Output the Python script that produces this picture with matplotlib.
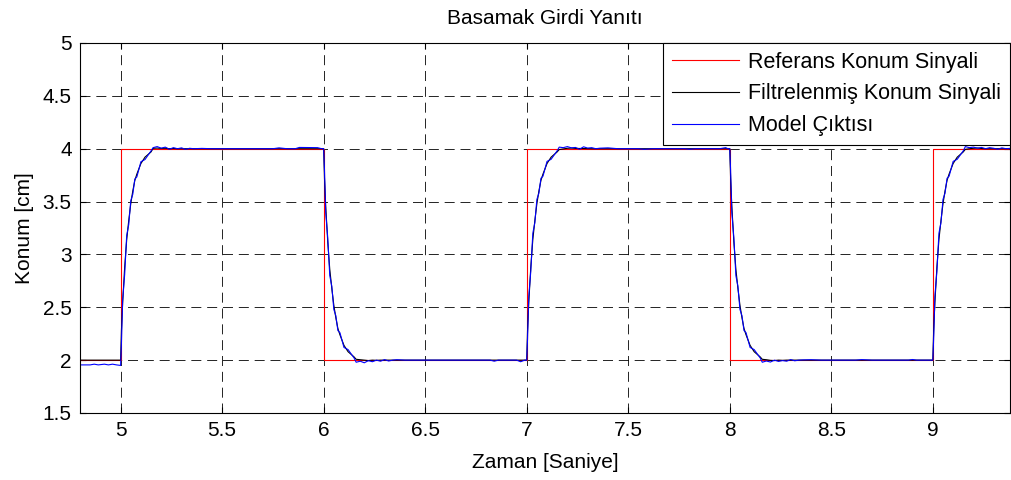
import matplotlib.pyplot as plt
import numpy as np

plt.rcParams['font.family'] = ['Liberation Sans', 'DejaVu Sans']

# reference step signal
step_times = [5.0, 6.0, 7.0, 8.0, 9.0]
ref_levels = [2.0, 4.0, 2.0, 4.0, 2.0, 4.0]
t_start, t_end = 4.8, 9.38

# transient: time after step (s) -> fraction of the jump done
resp_dt = [0.0, 0.004, 0.01, 0.02, 0.03, 0.04, 0.05, 0.06, 0.07, 0.08, 0.10, 0.12, 0.15]
filt_frac = [0.0, 0.14, 0.27, 0.44, 0.57, 0.66, 0.74, 0.80, 0.85, 0.88, 0.93, 0.96, 0.985]
model_frac = [0.0, 0.10, 0.30, 0.42, 0.60, 0.65, 0.76, 0.79, 0.86, 0.87, 0.94, 0.95, 0.99]

# model output before the first step
pre_t = [4.8, 4.85, 4.87, 4.89, 4.92, 4.94, 4.96, 4.98, 4.999]
pre_y = [1.955, 1.955, 1.962, 1.955, 1.962, 1.955, 1.962, 1.955, 1.95]

# model ripple around the new level after each step (cm), at settle_dt after the step
settle_dt = [0.16, 0.18, 0.20, 0.22, 0.24, 0.26, 0.28, 0.30, 0.32, 0.34, 0.36, 0.40, 0.45]
model_ripple = [
    [0.010, 0.020, 0.005, 0.015, -0.005, 0.010, 0.000, 0.008, -0.006, 0.004, 0.000, 0.003, 0.000],
    [-0.020, -0.010, -0.025, -0.005, -0.015, 0.000, -0.010, 0.005, -0.008, 0.000, 0.004, 0.000, 0.000],
    [0.015, 0.010, 0.020, 0.008, 0.012, -0.005, 0.018, 0.006, 0.010, 0.000, 0.005, 0.008, 0.000],
    [-0.020, -0.008, -0.018, 0.000, -0.012, -0.004, -0.010, 0.005, -0.006, 0.000, 0.002, 0.004, 0.000],
    [0.020, 0.010, 0.015, 0.005, 0.012, 0.000, 0.010, 0.004, -0.005, 0.008, 0.000, 0.006, 0.003],
]
filt_ripple = [
    [0.004, 0.006, 0.003, 0.004, 0.000, 0.002, 0.000, 0.000, 0.000, 0.000, 0.000, 0.000, 0.000],
    [0.008, 0.004, 0.000, -0.004, 0.000, -0.002, 0.000, 0.000, 0.000, 0.000, 0.000, 0.000, 0.000],
    [-0.008, -0.002, 0.004, 0.006, 0.003, 0.002, 0.000, 0.000, 0.000, 0.000, 0.000, 0.000, 0.000],
    [0.008, 0.004, -0.002, -0.004, 0.000, -0.002, 0.000, 0.000, 0.000, 0.000, 0.000, 0.000, 0.000],
    [-0.006, 0.000, 0.004, 0.006, 0.002, 0.000, 0.000, 0.000, 0.000, 0.000, 0.000, 0.000, 0.000],
]

# small late bumps of the model output: (time after step, offset)
model_bumps = [
    [(0.55, 0.0), (0.75, 0.0), (0.78, 0.008), (0.82, 0.0), (0.86, 0.0), (0.88, 0.012), (0.97, 0.01), (0.99, 0.0)],
    [(0.55, 0.0), (0.82, 0.0), (0.84, -0.01), (0.86, 0.0), (0.95, 0.0), (0.97, -0.015), (0.99, 0.0)],
    [(0.55, 0.0), (0.58, -0.006), (0.62, 0.0), (0.78, 0.0), (0.80, -0.005), (0.83, 0.0), (0.95, 0.0), (0.98, 0.01), (0.99, 0.0)],
    [(0.55, 0.0), (0.62, 0.0), (0.65, 0.005), (0.70, 0.0), (0.88, 0.0), (0.90, 0.006), (0.92, 0.0)],
    [(0.38, 0.0)],
]

xticks = [5, 5.5, 6, 6.5, 7, 7.5, 8, 8.5, 9]
yticks = [1.5, 2, 2.5, 3, 3.5, 4, 4.5, 5]


def build(frac, ripple, bumps=None, t0=None, y0=None):
    ts = list(t0) if t0 else [t_start]
    ys = list(y0) if y0 else [ref_levels[0]]
    for i, st in enumerate(step_times):
        a = ys[-1]
        b = ref_levels[i + 1]
        nxt = step_times[i + 1] if i + 1 < len(step_times) else t_end
        for dt, f in zip(resp_dt, frac):
            ts.append(st + dt)
            ys.append(a + (b - a) * f)
        for dt, r in zip(settle_dt, ripple[i]):
            ts.append(st + dt)
            ys.append(b + r)
        if bumps:
            for dt, r in bumps[i]:
                if st + dt < nxt:
                    ts.append(st + dt)
                    ys.append(b + r)
        ts.append(min(nxt - 0.001, t_end))
        ys.append(b)
    return np.array(ts), np.array(ys)


def main():
    fig = plt.figure(figsize=(10.12, 4.8), dpi=100)
    ax = fig.add_axes([80 / 1012, 1 - 413 / 480, 930 / 1012, 370 / 480])

    ref_t = [t_start] + step_times + [t_end]
    ref_y = ref_levels + [ref_levels[-1]]
    ax.step(ref_t, ref_y, where='post', color='r', lw=0.8, label='Referans Konum Sinyali')

    ft, fy = build(filt_frac, filt_ripple)
    ax.plot(ft, fy, color='k', lw=0.8, label='Filtrelenmiş Konum Sinyali')

    mt, my = build(model_frac, model_ripple, model_bumps, pre_t, pre_y)
    ax.plot(mt, my, color='b', lw=0.8, label='Model Çıktısı')

    ax.set_xlim(t_start, t_end)
    ax.set_ylim(1.5, 5)
    ax.set_xticks(xticks)
    ax.set_xticklabels([f'{v:g}' for v in xticks])
    ax.set_yticks(yticks)
    ax.set_yticklabels([f'{v:g}' for v in yticks])
    ax.tick_params(direction='in', top=True, right=True, labelsize=15, length=4, pad=6)
    ax.grid(True, color='k', linestyle=(0, (12, 7)), lw=0.6)
    for s in ax.spines.values():
        s.set_linewidth(0.8)

    ax.set_title('Basamak Girdi Yanıtı', fontsize=15, pad=14)
    ax.set_xlabel('Zaman [Saniye]', fontsize=15, labelpad=9)
    ax.set_ylabel('Konum [cm]', fontsize=15, labelpad=6)

    leg = ax.legend(loc='upper right', fontsize=15.5, handlelength=3.1, borderaxespad=0,
                    fancybox=False, framealpha=1, edgecolor='k', labelspacing=0.5,
                    borderpad=0.4, handletextpad=0.45)
    leg.get_frame().set_linewidth(0.8)

    fig.savefig('out.png', dpi=100)


if __name__ == '__main__':
    main()
